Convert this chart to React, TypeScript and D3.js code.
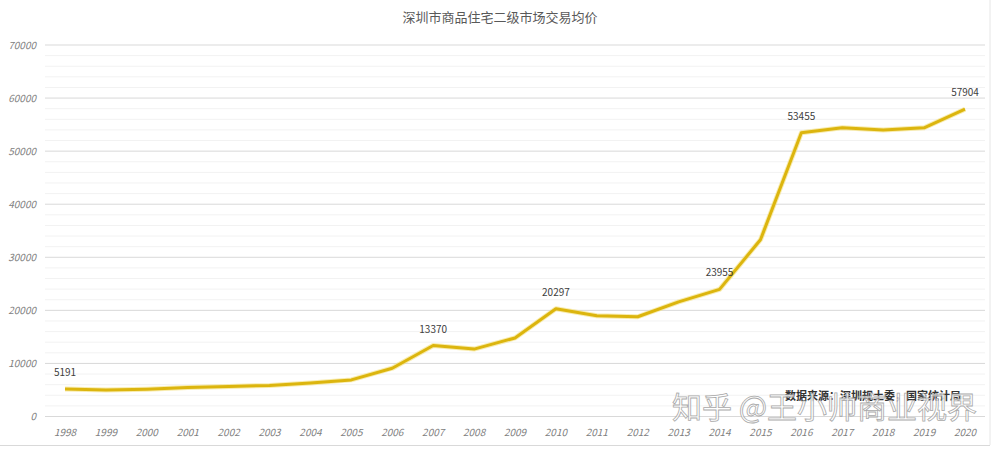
import React, { useEffect, useRef } from "react";
import * as d3 from "d3";

const years = ["1998","1999","2000","2001","2002","2003","2004","2005","2006","2007","2008","2009","2010","2011","2012","2013","2014","2015","2016","2017","2018","2019","2020"];
const prices = [5191,5000,5150,5450,5650,5850,6300,6900,9100,13370,12700,14800,20297,19000,18800,21600,23955,33300,53455,54400,54000,54400,57904];
const labeledYears = ["1998","2007","2010","2014","2016","2020"];
const yTicks = [0,10000,20000,30000,40000,50000,60000,70000];
const title = "深圳市商品住宅二级市场交易均价";
const sourceText = "数据来源：深圳规土委，国家统计局";
const watermark = "知乎 @王小帅商业视界";

export default function App() {
  const ref = useRef<SVGSVGElement>(null);
  useEffect(() => {
    const svg = d3.select(ref.current);
    svg.selectAll("*").remove();
    const W = 1000, H = 449;
    const left = 45, right = 985, top = 45, bottom = 416.5;
    const x = d3.scalePoint<string>().domain(years).range([65, 965]);
    const y = d3.scaleLinear().domain([0, 70000]).range([bottom, top]);
    const font = "'Noto Sans CJK SC', 'Noto Sans', sans-serif";

    svg.append("rect").attr("width", W).attr("height", H).attr("fill", "#fff");

    // minor grid
    const minor = d3.range(0, 70001, 2000).filter(v => v % 10000 !== 0);
    svg.append("g").selectAll("line").data(minor).join("line")
      .attr("x1", left).attr("x2", right)
      .attr("y1", d => y(d)).attr("y2", d => y(d))
      .attr("stroke", "#f2f2f2").attr("stroke-width", 1);
    // major grid
    svg.append("g").selectAll("line").data(yTicks).join("line")
      .attr("x1", left).attr("x2", right)
      .attr("y1", d => y(d)).attr("y2", d => y(d))
      .attr("stroke", "#d9d9d9").attr("stroke-width", 1);

    // frame lines
    svg.append("line").attr("x1", 990).attr("x2", 990).attr("y1", 0).attr("y2", 445).attr("stroke", "#e6e6e6");
    svg.append("line").attr("x1", 0).attr("x2", 990).attr("y1", 445.5).attr("y2", 445.5).attr("stroke", "#d9d9d9");

    // y tick labels
    svg.append("g").selectAll("text").data(yTicks).join("text")
      .attr("x", 36).attr("y", d => y(d)).attr("dy", "0.35em")
      .attr("text-anchor", "end").attr("font-size", 10).attr("font-style", "italic")
      .attr("font-family", font).attr("fill", "#808080")
      .text(d => String(d));

    // x tick labels
    svg.append("g").selectAll("text").data(years).join("text")
      .attr("x", d => x(d)!).attr("y", 436)
      .attr("text-anchor", "middle").attr("font-size", 10).attr("font-style", "italic")
      .attr("font-family", font).attr("fill", "#808080")
      .text(d => d);

    // title
    svg.append("text").attr("x", 500).attr("y", 22).attr("text-anchor", "middle")
      .attr("font-size", 13).attr("font-family", font).attr("fill", "#595959").text(title);

    // line
    const pts = years.map((yr, i) => ({ yr, v: prices[i] }));
    const line = d3.line<{ yr: string; v: number }>().x(d => x(d.yr)!).y(d => y(d.v));
    svg.append("path").datum(pts).attr("d", line)
      .attr("fill", "none").attr("stroke", "#f3df7a").attr("stroke-width", 5)
      .attr("stroke-linejoin", "round").attr("opacity", 0.6);
    svg.append("path").datum(pts).attr("d", line)
      .attr("fill", "none").attr("stroke", "#dcb50e").attr("stroke-width", 3)
      .attr("stroke-linejoin", "round");

    // data labels
    svg.append("g").selectAll("text").data(pts.filter(p => labeledYears.includes(p.yr))).join("text")
      .attr("x", d => x(d.yr)!).attr("y", d => y(d.v) - 13)
      .attr("text-anchor", "middle").attr("font-size", 10)
      .attr("font-family", font).attr("fill", "#404040")
      .text(d => String(d.v));

    // source
    svg.append("text").attr("x", 785).attr("y", 400).attr("text-anchor", "start")
      .attr("font-size", 11).attr("font-family", font).attr("fill", "#333")
      .attr("font-weight", "bold").text(sourceText);

    // watermark
    svg.append("text").attr("x", 672).attr("y", 418).attr("text-anchor", "start")
      .attr("font-size", 30).attr("font-family", font).attr("fill", "#ffffff")
      .attr("stroke", "#9a9a9a").attr("stroke-width", 0.8).attr("opacity", 0.85)
      .text(watermark);
  }, []);
  return (
    <svg ref={ref} width={1000} height={449} style={{ display: "block", position: "absolute", left: 0, top: 0 }} />
  );
}
